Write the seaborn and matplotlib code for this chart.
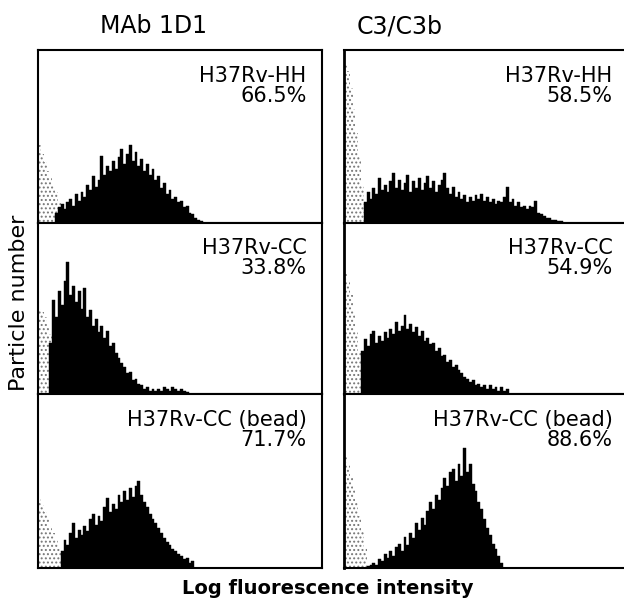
"""
Histogramas de citometría: unión de MAb 1D1 y C3/C3b a H37Rv.
"""
import numpy as np
import pandas as pd
import matplotlib
matplotlib.use("Agg")
import matplotlib.pyplot as plt
import seaborn as sns

# ---------------- datos (altura en % del panel, por canal) ----------------
COL_TITLES = ["MAb 1D1", "C3/C3b"]
ROW_LABELS = ["H37Rv-HH", "H37Rv-CC", "H37Rv-CC (bead)"]
PERCENTS = [["66.5%", "33.8%", "71.7%"],
            ["58.5%", "54.9%", "88.6%"]]

# MAb 1D1
mab_hh_start = 6
mab_hh = [6, 9, 11, 8, 12, 14, 10, 17, 13, 18, 15, 22, 19, 27, 21, 25, 39, 28,
          33, 30, 36, 31, 38, 43, 34, 40, 45, 36, 41, 33, 37, 30, 34, 28, 31, 25,
          27, 20, 23, 17, 19, 14, 15, 12, 13, 9, 10, 6, 5, 3, 2, 1]
mab_cc_start = 4
mab_cc = [30, 55, 45, 60, 52, 66, 77, 58, 63, 54, 60, 50, 62, 45, 49, 40, 44,
          36, 40, 33, 37, 28, 30, 24, 21, 18, 16, 12, 13, 8, 9, 6, 5, 3, 4, 2,
          3, 2, 3, 2, 4, 3, 2, 4, 3, 2, 3, 2, 1]
mab_bead_start = 8
mab_bead = [10, 16, 13, 20, 26, 17, 22, 19, 24, 21, 28, 31, 25, 30, 27, 35, 40,
            32, 37, 34, 42, 38, 44, 39, 46, 41, 47, 50, 42, 38, 35, 31, 28, 26,
            23, 20, 17, 15, 13, 11, 10, 8, 7, 5, 6, 3, 4]

# C3/C3b
c3_hh_start = 7
c3_hh = [12, 18, 14, 20, 17, 26, 19, 22, 18, 24, 29, 20, 25, 19, 23, 28, 18,
         24, 20, 26, 19, 23, 27, 20, 24, 18, 22, 25, 29, 20, 17, 21, 15, 18, 14,
         16, 12, 15, 13, 16, 14, 17, 13, 15, 12, 14, 11, 13, 12, 15, 21, 12, 14,
         10, 12, 9, 10, 8, 10, 9, 13, 6, 5, 4, 3, 3, 2, 2, 1, 1]
c3_cc_start = 6
c3_cc = [25, 32, 28, 35, 37, 30, 34, 31, 36, 33, 38, 35, 42, 37, 40, 46, 38, 41,
         36, 39, 34, 37, 31, 33, 29, 30, 25, 27, 22, 23, 19, 20, 16, 17, 14, 12,
         10, 9, 7, 8, 5, 6, 4, 5, 3, 5, 3, 4, 2, 4, 2, 3]
c3_bead_start = 8
c3_bead = [1, 2, 3, 2, 5, 4, 8, 6, 10, 7, 12, 14, 10, 18, 13, 20, 17, 26, 22,
           29, 25, 33, 38, 34, 42, 39, 46, 52, 47, 55, 57, 50, 60, 53, 69, 55,
           60, 48, 44, 38, 34, 28, 23, 19, 14, 11, 7, 3]

# zona punteada (ruido) a la izquierda, desde el canal 0
noise_mab = [[45, 40, 35, 30, 26, 22, 18, 12, 8],
             [50, 48, 45, 40, 35, 25],
             [40, 36, 32, 28, 24, 20, 16, 12]]
noise_c3 = [[92, 88, 78, 66, 52, 38, 22],
            [70, 66, 58, 48, 36, 24, 14],
            [65, 60, 52, 45, 38, 30, 22, 12]]

HIST = [[(mab_hh_start, mab_hh), (mab_cc_start, mab_cc), (mab_bead_start, mab_bead)],
        [(c3_hh_start, c3_hh), (c3_cc_start, c3_cc), (c3_bead_start, c3_bead)]]
NOISE = [noise_mab, noise_c3]

sns.set_style("white")
plt.rcParams["font.family"] = ["DejaVu Sans"]
plt.rcParams["hatch.linewidth"] = 0.9
plt.rcParams["text.color"] = "black"

fig = plt.figure(figsize=(6.24, 6.03), dpi=100)

W, H = 624, 603
col_x = [38, 344]
col_w = 284
rows_y = [(50, 223), (223, 394), (394, 568)]

for c in range(2):
    for r in range(3):
        top, bot = rows_y[r]
        ax = fig.add_axes([col_x[c] / W, 1 - bot / H, col_w / W, (bot - top) / H])
        noise = NOISE[c][r]
        dn = pd.DataFrame({"ch": np.arange(len(noise)) + 0.5, "h": noise})
        sns.histplot(data=dn, x="ch", weights="h", binwidth=1, binrange=(0, 100),
                     ax=ax, facecolor="white", edgecolor="#777777", hatch="....",
                     linewidth=0, alpha=1)
        start, vals = HIST[c][r]
        dh = pd.DataFrame({"ch": np.arange(len(vals)) + start + 0.5, "h": vals})
        sns.histplot(data=dh, x="ch", weights="h", binwidth=1, binrange=(0, 100),
                     ax=ax, color="black", edgecolor="black", linewidth=0.3,
                     alpha=1)
        ax.set_xlim(0, 100)
        ax.set_ylim(0, 100)
        ax.set_xticks([])
        ax.set_yticks([])
        ax.set_xlabel("")
        ax.set_ylabel("")
        for s in ax.spines.values():
            s.set_color("black")
            s.set_linewidth(1.5)
        if c == 1:
            ax.spines["right"].set_visible(False)
            ax.spines["left"].set_linewidth(2)
        ax.text(0.945, 0.91, f"{ROW_LABELS[r]}\n{PERCENTS[c][r]}",
                transform=ax.transAxes, ha="right", va="top", fontsize=15,
                linespacing=1.0, color="black")

fig.text(153 / W, 1 - 26 / H, COL_TITLES[0], ha="center", va="center",
         fontsize=17, color="black")
fig.text(400 / W, 1 - 26 / H, COL_TITLES[1], ha="center", va="center",
         fontsize=17, color="black")
fig.text(328 / W, 1 - 589 / H, "Log fluorescence intensity", ha="center",
         va="center", fontsize=14, fontweight="bold", color="black")
fig.text(19 / W, 1 - 303 / H, "Particle number", ha="center", va="center",
         rotation=90, fontsize=16, color="black")

fig.savefig("out.png", dpi=100)
